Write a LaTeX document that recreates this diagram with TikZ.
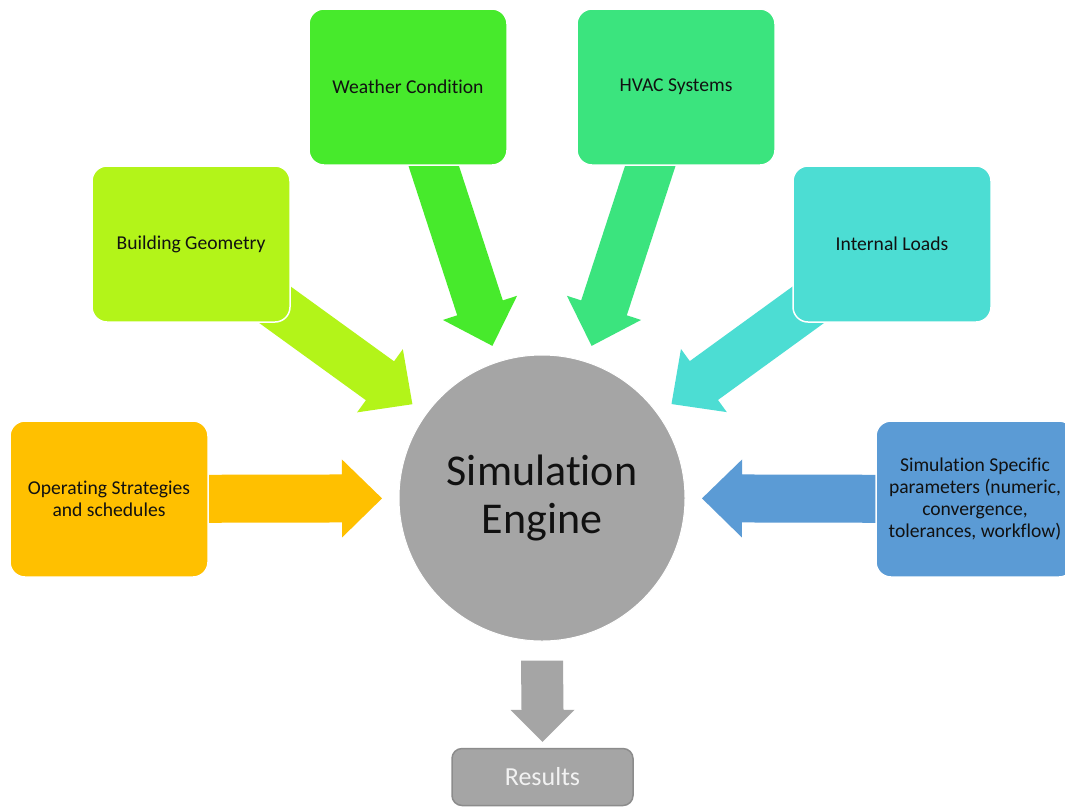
\documentclass[tikz,border=0pt]{standalone}
\usepackage{fontspec}
\setmainfont{Carlito}[Ligatures={NoCommon}]
\usetikzlibrary{calc}
\pgfdeclarelayer{bg}
\pgfsetlayers{bg,main}
\definecolor{cOps}{HTML}{FFC000}
\definecolor{cGeo}{HTML}{B3F419}
\definecolor{cWea}{HTML}{47EA2C}
\definecolor{cHvac}{HTML}{3BE47E}
\definecolor{cLoad}{HTML}{4CDDD3}
\definecolor{cSpec}{HTML}{5B9BD5}
\definecolor{cGray}{HTML}{A5A5A5}
\definecolor{cGrayLine}{HTML}{8C8C8C}
\definecolor{cTxt}{HTML}{111111}
\newcommand\radarrow[2]{%
  \coordinate (tip#1) at ($(eng.center)!160pt!(#1.center)$);
  \coordinate (hb#1) at ($(tip#1)!40pt!(#1.center)$);
  \fill[#2] (tip#1) -- ($(hb#1)!39pt!90:(tip#1)$) -- ($(hb#1)!24pt!90:(tip#1)$)
    -- ($(#1.center)!24pt!90:(tip#1)$) -- ($(#1.center)!24pt!-90:(tip#1)$)
    -- ($(hb#1)!24pt!-90:(tip#1)$) -- ($(hb#1)!39pt!-90:(tip#1)$) -- cycle;
}
\begin{document}
\begin{tikzpicture}[x=1pt,y=1pt,
  box/.style={draw=white, line width=1.5pt, rounded corners=15pt,
    minimum width=198pt, minimum height=156pt, inner sep=0pt, align=center,
    text=cTxt, font=\fontsize{19.6}{22}\selectfont},
  engine/.style={circle, fill=cGray, draw=white, line width=1pt, minimum size=286pt,
    inner sep=0pt, align=center, text=cTxt, font=\fontsize{44}{48}\selectfont},
  result/.style={rectangle, fill=cGray, draw=cGrayLine, line width=1.5pt,
    rounded corners=10pt, minimum width=181pt, minimum height=57pt, inner sep=0pt,
    text=white!95!black, font=\fontsize{26}{28}\selectfont}
]
\useasboundingbox (0,0) rectangle (1065,-807);

\node[engine] (eng) at (542,-498) {Simulation\\Engine};
\node[box, fill=cOps]  (ops)  at (109,-499) {Operating Strategies\\and schedules};
\node[box, fill=cGeo]  (geo)  at (191,-244) {Building Geometry};
\node[box, fill=cWea]  (wea)  at (408,-87)  {Weather Condition};
\node[box, fill=cHvac] (hvac) at (676,-87)  {HVAC Systems};
\node[box, fill=cLoad] (load) at (892,-244) {Internal Loads};
\node[box, fill=cSpec] (spec) at (975,-499) {Simulation Specific\\parameters (numeric,\\convergence,\\tolerances, workflow)};
\node[result] (res) at (542.5,-777) {Results};

\begin{pgfonlayer}{bg}
  \fill[white] (0,0) rectangle (1065,-807);
  \radarrow{ops}{cOps}
  \radarrow{geo}{cGeo}
  \radarrow{wea}{cWea}
  \radarrow{hvac}{cHvac}
  \radarrow{load}{cLoad}
  \radarrow{spec}{cSpec}
  \coordinate (dtop) at ($(eng.south)+(0,-19)$);
  \coordinate (dtip) at ($(res.north)+(0,6)$);
  \fill[cGray] (dtip) -- ($(dtip)+(-32,32)$) -- ($(dtip)+(-21,32)$) -- ($(dtop)+(-21,0)$)
    -- ($(dtop)+(21,0)$) -- ($(dtip)+(21,32)$) -- ($(dtip)+(32,32)$) -- cycle;
\end{pgfonlayer}
\end{tikzpicture}
\end{document}
